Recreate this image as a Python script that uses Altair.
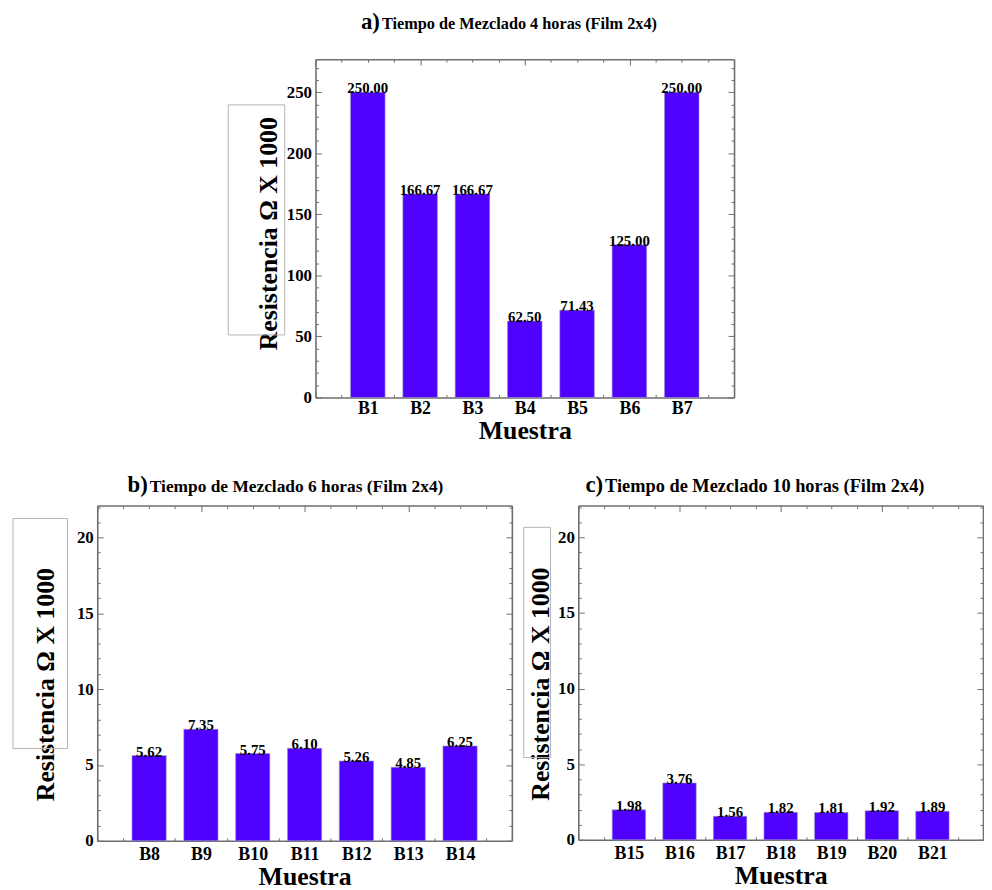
import altair as alt
import pandas as pd

# ---------------- data ----------------
positions = [1, 2, 3, 4, 5, 6, 7]
names_a = ["B1", "B2", "B3", "B4", "B5", "B6", "B7"]
vals_a = [250.00, 166.67, 166.67, 62.50, 71.43, 125.00, 250.00]
names_b = ["B8", "B9", "B10", "B11", "B12", "B13", "B14"]
vals_b = [5.62, 7.35, 5.75, 6.10, 5.26, 4.85, 6.25]
names_c = ["B15", "B16", "B17", "B18", "B19", "B20", "B21"]
vals_c = [1.98, 3.76, 1.56, 1.82, 1.81, 1.92, 1.89]

x_ticks = [0, 0.5, 1, 1.5, 2, 2.5, 3, 3.5, 4, 4.5, 5, 5.5, 6, 6.5, 7, 7.5, 8]
y_major_a = [0, 50, 100, 150, 200, 250]
y_ticks_a = list(range(0, 271, 10))
y_major_bc = [0, 5, 10, 15, 20]
y_ticks_bc = list(range(0, 23, 1))

FONT = "Liberation Serif"
BAR = "#5000ff"
FRAME = "#6e6e6e"


def tick_axis(orient, offset, values, major_test):
    return alt.Axis(
        orient=orient, offset=offset, values=values, labels=False, title=None,
        grid=False, domain=True, domainColor=FRAME, domainWidth=1.6,
        ticks=True, tickColor=FRAME, tickWidth=1,
        tickSize={"condition": {"test": major_test, "value": 6}, "value": 3},
    )


def panel(names, vals, ymax, ymajor, yticks, ymod, W, H, letter, title,
          tsize, lx, ly, ytpad, ytitle_shift, xlpad, box):
    df = pd.DataFrame({"pos": positions, "name": names, "val": vals})
    base = alt.Chart(df).transform_calculate(
        x0="datum.pos - 0.33", x1="datum.pos + 0.33"
    )
    xs = alt.Scale(domain=[0, 8], nice=False, zero=False)
    ys = alt.Scale(domain=[0, ymax], nice=False)
    lab_expr = "[''," + ",".join("'%s'" % n for n in names) + "][datum.value]"
    bars = base.mark_bar(color=BAR, stroke="#9a94c8", strokeWidth=0.6).encode(
        x=alt.X("x0:Q", scale=xs, axis=alt.Axis(
            orient="bottom", values=positions, labelExpr=lab_expr, ticks=False,
            domain=False, grid=False, title="Muestra", labelFont=FONT,
            labelFontSize=18, labelFontWeight="bold", labelColor="black",
            labelPadding=xlpad, titleFont=FONT, titleFontSize=26,
            titleFontWeight="bold", titleColor="black", titlePadding=0)),
        x2="x1:Q",
        y=alt.Y("val:Q", scale=ys, axis=alt.Axis(
            orient="left", values=ymajor, ticks=False, domain=False, grid=False,
            title="Resistencia Ω X 1000", labelFont=FONT, labelFontSize=17,
            labelFontWeight="bold", labelColor="black", labelPadding=4,
            titleFont=FONT, titleFontSize=26, titleFontWeight="bold",
            titleColor="black", titlePadding=ytpad,
            titleY=H / 2 + ytitle_shift)),
        y2=alt.datum(0),
    )
    labels = base.mark_text(font=FONT, fontSize=15, fontWeight="bold",
                            baseline="alphabetic", dy=1, color="black").encode(
        x=alt.X("pos:Q", scale=xs, axis=None),
        y=alt.Y("val:Q", scale=ys, axis=None),
        text=alt.Text("val:Q", format=".2f"),
    )
    x_major = "datum.value % 2 === 0"
    y_major = "datum.value %% %d === 0" % ymod
    ticks1 = base.mark_point(opacity=0).encode(
        x=alt.X("pos:Q", scale=xs, axis=tick_axis("bottom", -H, x_ticks, x_major)),
        y=alt.Y("val:Q", scale=ys, axis=tick_axis("left", -W, yticks, y_major)),
    )
    ticks2 = base.mark_point(opacity=0).encode(
        x=alt.X("pos:Q", scale=xs, axis=tick_axis("top", -H, x_ticks, x_major)),
        y=alt.Y("val:Q", scale=ys, axis=tick_axis("right", -W, yticks, y_major)),
    )
    head = alt.Chart(pd.DataFrame({"t": [letter], "r": [title]}))
    letter_mark = head.mark_text(
        font=FONT, fontSize=23, fontWeight="bold", align="right",
        baseline="alphabetic", color="black").encode(
        x=alt.value(lx), y=alt.value(ly), text="t:N")
    title_mark = head.mark_text(
        font=FONT, fontSize=tsize, fontWeight="bold", align="left",
        baseline="alphabetic", color="black").encode(
        x=alt.value(lx + 2), y=alt.value(ly), text="r:N")
    frame_box = head.mark_rect(fill="transparent", stroke="#b4b4b4",
                               strokeWidth=1).encode(
        x=alt.value(box[0]), x2=alt.value(box[1]),
        y=alt.value(box[2]), y2=alt.value(box[3]))
    return alt.layer(frame_box, bars, labels, ticks1, ticks2, letter_mark,
                     title_mark).resolve_axis(
        x="independent", y="independent"
    ).properties(width=W, height=H)


pa = panel(names_a, vals_a, 277, y_major_a, y_ticks_a, 50, 422, 341, "a)",
           "Tiempo de Mezclado 4 horas (Film 2x4)", 16.4, 65, -30, 5, 5, 2,
           (-88, -31, 46, 278))
pb = panel(names_b, vals_b, 22.1, y_major_bc, y_ticks_bc, 5, 418, 338, "b)",
           "Tiempo de Mezclado 6 horas (Film 2x4)", 17.5, 51, -14, 18, 11, 5,
           (-85, -30, 13, 245))
pc = panel(names_c, vals_c, 22.1, y_major_bc, y_ticks_bc, 5, 408, 337, "c)",
           "Tiempo de Mezclado 10 horas (Film 2x4)", 18.5, 25, -14, 4, 11, 5,
           (-55, -28, 22, 254))

spacer = alt.Chart(pd.DataFrame({"s": [0]})).mark_point(opacity=0).encode(
    x=alt.X("s:Q", axis=None), y=alt.Y("s:Q", axis=None)
).properties(width=131, height=10)

chart = alt.vconcat(
    alt.hconcat(spacer, pa, spacing=0),
    alt.hconcat(pb, pc, spacing=10),
    spacing=31,
).properties(
    padding={"left": 4, "top": 0, "right": 0, "bottom": 0},
    background="white",
).configure_view(stroke="transparent", strokeWidth=0)

chart.save("out.html", embed_options={"renderer": "svg", "actions": False})
